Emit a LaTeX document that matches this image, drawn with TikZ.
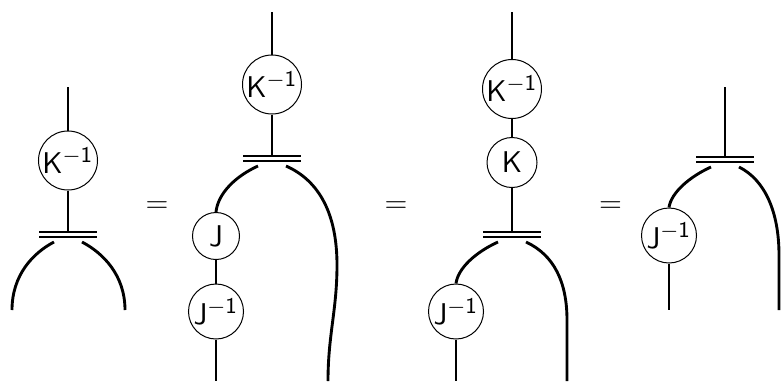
\documentclass[tikz,border=0pt]{standalone}
\begin{document}
\begin{tikzpicture}[x=0.4pt,y=-0.4pt,
  wire/.style={line width=1.15pt},
  box/.style={circle,draw,line width=0.4pt,inner sep=0pt,font=\fontsize{12.4}{15}\selectfont\sffamily},
  barline/.style={line width=0.45pt},
  eqsign/.style={inner sep=0pt,font=\fontsize{12.4}{15}\selectfont}]
\useasboundingbox (0,0) rectangle (781,381);
% ---------- diagram 1
\coordinate (t1) at (68,87);
\node[box,minimum size=23.6pt] (a1) at (68,160.5) {$\mathsf{K}^{-\mathsf{1}}$};
\coordinate (m1) at (68,232);
\draw[barline] (m1) ++(-29,0) -- ++(58,0);
\draw[barline] (m1) ++(-29,5) -- ++(58,0);
\draw[wire] (t1) -- (a1);
\draw[wire] (a1) -- (m1);
\coordinate (l1s) at (54,242); \coordinate (l1e) at (12,310);
\coordinate (r1s) at (82,242); \coordinate (r1e) at (125,310);
\draw[wire] (l1s) .. controls (33,253) and (12,275) .. (l1e);
\draw[wire] (r1s) .. controls (103,253) and (125,275) .. (r1e);
% ---------- equals
\node[eqsign] (e1) at (157,207.5) {$=$};
\node[eqsign] (e2) at (396,207.5) {$=$};
\node[eqsign] (e3) at (610.5,207.5) {$=$};
% ---------- diagram 2
\coordinate (t2) at (272,12);
\node[box,minimum size=23.6pt] (a2) at (272,84.5) {$\mathsf{K}^{-\mathsf{1}}$};
\coordinate (m2) at (272,156);
\draw[barline] (m2) ++(-29,0) -- ++(58,0);
\draw[barline] (m2) ++(-29,5) -- ++(58,0);
\draw[wire] (t2) -- (a2);
\draw[wire] (a2) -- (m2);
\node[box,minimum size=18.8pt] (b2) at (216,236) {$\mathsf{J}$};
\node[box,minimum size=22pt] (c2) at (216,311.5) {$\mathsf{J}^{-\mathsf{1}}$};
\coordinate (l2s) at (258,166);
\coordinate (d2) at (216,381);
\coordinate (r2s) at (286,166); \coordinate (r2m) at (337,265); \coordinate (r2e) at (328,381);
\draw[wire] (l2s) .. controls (236,176) and (218,193) .. (b2.north);
\draw[wire] (b2) -- (c2);
\draw[wire] (c2) -- (d2);
\draw[wire] (r2s) .. controls (320,181) and (337,215) .. (r2m)
  .. controls (337,310) and (328,335) .. (r2e);
% ---------- diagram 3
\coordinate (t3) at (512,12);
\node[box,minimum size=23.6pt] (a3) at (512,89) {$\mathsf{K}^{-\mathsf{1}}$};
\node[box,minimum size=20pt] (k3) at (512,162.5) {$\mathsf{K}$};
\coordinate (m3) at (512,232);
\draw[barline] (m3) ++(-29,0) -- ++(58,0);
\draw[barline] (m3) ++(-29,5) -- ++(58,0);
\draw[wire] (t3) -- (a3);
\draw[wire] (a3) -- (k3);
\draw[wire] (k3) -- (m3);
\node[box,minimum size=22pt] (c3) at (456,311.5) {$\mathsf{J}^{-\mathsf{1}}$};
\coordinate (l3s) at (498,242);
\coordinate (d3) at (456,381);
\coordinate (r3s) at (526,242); \coordinate (r3m) at (567,320); \coordinate (r3e) at (567,381);
\draw[wire] (l3s) .. controls (476,252) and (458,268) .. (c3.north);
\draw[wire] (c3) -- (d3);
\draw[wire] (r3s) .. controls (554,255) and (567,282) .. (r3m) -- (r3e);
% ---------- diagram 4
\coordinate (t4) at (725,87);
\coordinate (m4) at (725,157);
\draw[barline] (m4) ++(-29,0) -- ++(58,0);
\draw[barline] (m4) ++(-29,5) -- ++(58,0);
\draw[wire] (t4) -- (m4);
\node[box,minimum size=22pt] (c4) at (669,235.5) {$\mathsf{J}^{-\mathsf{1}}$};
\coordinate (l4s) at (711,167);
\coordinate (d4) at (669,310);
\coordinate (r4s) at (739,167); \coordinate (r4m) at (779,255); \coordinate (r4e) at (779,310);
\draw[wire] (l4s) .. controls (689,177) and (671,193) .. (c4.north);
\draw[wire] (c4) -- (d4);
\draw[wire] (r4s) .. controls (765,180) and (779,212) .. (r4m) -- (r4e);
\end{tikzpicture}
\end{document}
